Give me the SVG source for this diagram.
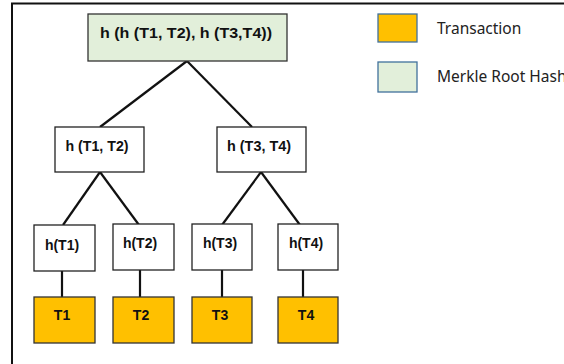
<svg xmlns="http://www.w3.org/2000/svg" width="564" height="364" viewBox="0 0 564 364">
<style>
.box{fill:#fff;stroke:#222;stroke-width:1.3}
.root{fill:#e2efda;stroke:#333;stroke-width:1.3}
.tx{fill:#ffc000;stroke:#333;stroke-width:1.3}
.lg1{fill:#ffc000;stroke:#41719c;stroke-width:1.3}
.lg2{fill:#e2efda;stroke:#41719c;stroke-width:1.3}
.t{font-family:"Liberation Sans",Arial,sans-serif;font-weight:bold;font-size:14px;fill:#111;text-anchor:middle}
.l{font-family:"Noto Sans","Liberation Sans",sans-serif;font-size:15.5px;fill:#222}
.c{stroke:#111;stroke-width:2.2;fill:none}
</style>
<rect width="564" height="364" fill="#fff"/>
<path d="M12 364 V3.5 H564" stroke="#111" stroke-width="2" fill="none"/>
<g id="connectors">
<line class="c" x1="187" y1="61" x2="100" y2="127"/>
<line class="c" x1="187" y1="61" x2="252" y2="127"/>
<line class="c" x1="100" y1="172" x2="63" y2="225"/>
<line class="c" x1="100" y1="172" x2="139" y2="225"/>
<line class="c" x1="261" y1="172" x2="222" y2="225"/>
<line class="c" x1="261" y1="172" x2="300" y2="225"/>
<line class="c" x1="62" y1="271" x2="62" y2="297"/>
<line class="c" x1="140" y1="270" x2="140" y2="297"/>
<line class="c" x1="222" y1="270" x2="222" y2="297"/>
<line class="c" x1="303" y1="270" x2="303" y2="297"/>
</g>
<g id="root"><rect class="root" x="88" y="14" width="199" height="47"/><text class="t" x="186" y="38" textLength="172" lengthAdjust="spacingAndGlyphs">h (h (T1, T2), h (T3,T4))</text></g>
<g id="h12"><rect class="box" x="55" y="127" width="89" height="45"/><text class="t" x="97" y="151" textLength="63" lengthAdjust="spacingAndGlyphs">h (T1, T2)</text></g>
<g id="h34"><rect class="box" x="217" y="127" width="89" height="45"/><text class="t" x="259" y="151" textLength="64" lengthAdjust="spacingAndGlyphs">h (T3, T4)</text></g>
<g id="hT1"><rect class="box" x="34" y="225" width="61" height="46"/><text class="t" x="62" y="250">h(T1)</text></g>
<g id="hT2"><rect class="box" x="113" y="224" width="61" height="46"/><text class="t" x="140" y="248">h(T2)</text></g>
<g id="hT3"><rect class="box" x="192" y="224" width="60" height="46"/><text class="t" x="220" y="248">h(T3)</text></g>
<g id="hT4"><rect class="box" x="278" y="224" width="60" height="46"/><text class="t" x="306" y="248">h(T4)</text></g>
<g id="T1"><rect class="tx" x="34" y="297" width="61" height="46"/><text class="t" x="62" y="320">T1</text></g>
<g id="T2"><rect class="tx" x="113" y="297" width="61" height="46"/><text class="t" x="141" y="320">T2</text></g>
<g id="T3"><rect class="tx" x="192" y="297" width="60" height="46"/><text class="t" x="220" y="320">T3</text></g>
<g id="T4"><rect class="tx" x="278" y="297" width="60" height="46"/><text class="t" x="306" y="320">T4</text></g>
<g id="legend-tx"><rect class="lg1" x="378" y="14" width="39" height="28"/><text class="l" x="437" y="34">Transaction</text></g>
<g id="legend-root"><rect class="lg2" x="378" y="62" width="39" height="30"/><text class="l" x="437" y="82">Merkle Root Hash</text></g>
</svg>
